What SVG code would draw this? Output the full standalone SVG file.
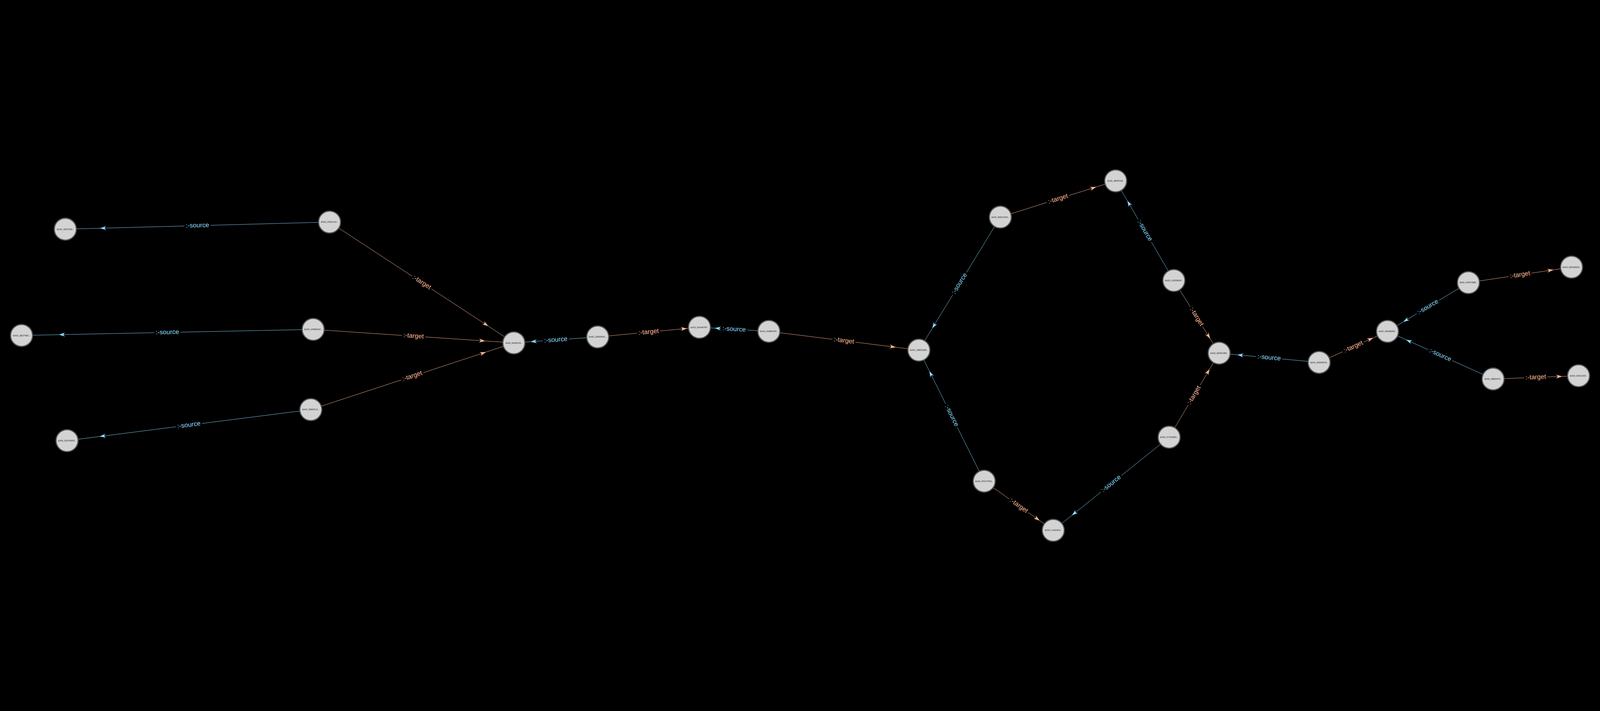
<svg xmlns="http://www.w3.org/2000/svg" width="7423" height="1820" viewBox="0 0 7423 1820">
<style>
:root{max-width:100vw;max-height:100vh;background:#000}
.src{fill:none;stroke:#8cdcff;stroke-width:1.6;marker-mid:url(#aS)}
.tgt{fill:none;stroke:#ffb896;stroke-width:1.6;marker-mid:url(#aT)}
.lb{fill:#000}
.ls{font-family:"Liberation Sans",Arial,sans-serif;font-size:30px;fill:#8cdcff;text-anchor:middle}
.lt{font-family:"Liberation Sans",Arial,sans-serif;font-size:30px;fill:#ffb896;text-anchor:middle}
.node circle{fill:#d3d3d3;stroke:#555;stroke-width:5}
.node text{font-family:"Liberation Sans",Arial,sans-serif;font-size:10px;fill:#222;text-anchor:middle}
</style>
<defs>
<marker id="aS" viewBox="-31 -10 32 20" refX="0" refY="0" markerWidth="32" markerHeight="20" markerUnits="userSpaceOnUse" orient="auto" overflow="visible">
<path d="M0,0 L-30,-9.5 Q-14,0 -30,9.5 Z" fill="#8cdcff"/>
</marker>
<marker id="aT" viewBox="-31 -10 32 20" refX="0" refY="0" markerWidth="32" markerHeight="20" markerUnits="userSpaceOnUse" orient="auto" overflow="visible">
<path d="M0,0 L-30,-9.5 Q-14,0 -30,9.5 Z" fill="#ffb896"/>
</marker>
</defs>
<rect x="0" y="0" width="7423" height="1820" fill="#000"/>
<g id="edges">
<g id="e1"><polyline class="src" points="1529,291 464,319.7 303,324"/><g transform="translate(916,307.5) rotate(-1.54)"><rect class="lb" x="-61" y="-10" width="122" height="20"/><text class="ls" x="0" y="8">:-source</text></g></g>
<g id="e2"><polyline class="tgt" points="1529,291 2265.5,773.8 2384,851.5"/><g transform="translate(1956.5,571.25) rotate(33.25)"><rect class="lb" x="-54" y="-10" width="108" height="20"/><text class="lt" x="0" y="8">:-target</text></g></g>
<g id="e3"><polyline class="src" points="1453,789 273,813.4 100,817"/><g transform="translate(776.5,803) rotate(-1.19)"><rect class="lb" x="-61" y="-10" width="122" height="20"/><text class="ls" x="0" y="8">:-source</text></g></g>
<g id="e4"><polyline class="tgt" points="1453,789 2251.4,842.6 2384,851.5"/><g transform="translate(1918.5,820.25) rotate(3.84)"><rect class="lb" x="-54" y="-10" width="108" height="20"/><text class="lt" x="0" y="8">:-target</text></g></g>
<g id="e5"><polyline class="src" points="1442,1161 462,1285.8 311,1305"/><g transform="translate(876.5,1233) rotate(-7.26)"><rect class="lb" x="-61" y="-10" width="122" height="20"/><text class="ls" x="0" y="8">:-source</text></g></g>
<g id="e6"><polyline class="tgt" points="1442,1161 2254.7,894.1 2384,851.5"/><g transform="translate(1913,1006.25) rotate(-18.19)"><rect class="lb" x="-54" y="-10" width="108" height="20"/><text class="lt" x="0" y="8">:-target</text></g></g>
<g id="e7"><polyline class="src" points="2773,824 2461.7,846 2384,851.5"/><g transform="translate(2578.5,837.75) rotate(-4.04)"><rect class="lb" x="-61" y="-10" width="122" height="20"/><text class="ls" x="0" y="8">:-source</text></g></g>
<g id="e8"><polyline class="tgt" points="2773,824 3187,784.5 3245,779"/><g transform="translate(3009,801.5) rotate(-5.45)"><rect class="lb" x="-54" y="-10" width="108" height="20"/><text class="lt" x="0" y="8">:-target</text></g></g>
<g id="e9"><polyline class="src" points="3567,798 3315.7,783.2 3245,779"/><g transform="translate(3406,788.5) rotate(3.38)"><rect class="lb" x="-61" y="-10" width="122" height="20"/><text class="ls" x="0" y="8">:-source</text></g></g>
<g id="e10"><polyline class="tgt" points="3567,798 4156,871.6 4263,885"/><g transform="translate(3915,841.5) rotate(7.13)"><rect class="lb" x="-54" y="-10" width="108" height="20"/><text class="lt" x="0" y="8">:-target</text></g></g>
<g id="e11"><polyline class="src" points="4641,268 4325,784 4263,885"/><g transform="translate(4452,576.5) rotate(-58.5)"><rect class="lb" x="-61" y="-10" width="122" height="20"/><text class="ls" x="0" y="8">:-source</text></g></g>
<g id="e12"><polyline class="tgt" points="4641,268 5086,128 5176,100"/><g transform="translate(4908.5,184) rotate(-17.43)"><rect class="lb" x="-54" y="-10" width="108" height="20"/><text class="lt" x="0" y="8">:-target</text></g></g>
<g id="e13"><polyline class="src" points="5446,562 5230,192 5176,100"/><g transform="translate(5311,331) rotate(59.7)"><rect class="lb" x="-61" y="-10" width="122" height="20"/><text class="ls" x="0" y="8">:-source</text></g></g>
<g id="e14"><polyline class="tgt" points="5446,562 5614.5,832 5656,899"/><g transform="translate(5551,730.5) rotate(58.07)"><rect class="lb" x="-54" y="-10" width="108" height="20"/><text class="lt" x="0" y="8">:-target</text></g></g>
<g id="e15"><polyline class="src" points="6120,942 5740,906.8 5656,899"/><g transform="translate(5888,920.5) rotate(5.29)"><rect class="lb" x="-61" y="-10" width="122" height="20"/><text class="ls" x="0" y="8">:-source</text></g></g>
<g id="e16"><polyline class="tgt" points="6120,942 6371,828 6437,798"/><g transform="translate(6278.5,870) rotate(-24.43)"><rect class="lb" x="-54" y="-10" width="108" height="20"/><text class="lt" x="0" y="8">:-target</text></g></g>
<g id="e17"><polyline class="src" points="6812.5,572 6510,754 6437,798"/><g transform="translate(6624.75,685) rotate(-31.04)"><rect class="lb" x="-61" y="-10" width="122" height="20"/><text class="ls" x="0" y="8">:-source</text></g></g>
<g id="e18"><polyline class="tgt" points="6812.5,572 7207,512.6 7291,500"/><g transform="translate(7051.75,536) rotate(-8.56)"><rect class="lb" x="-54" y="-10" width="108" height="20"/><text class="lt" x="0" y="8">:-target</text></g></g>
<g id="e19"><polyline class="src" points="6927,1019 6523,836.8 6437,798"/><g transform="translate(6682,908.5) rotate(24.27)"><rect class="lb" x="-61" y="-10" width="122" height="20"/><text class="ls" x="0" y="8">:-source</text></g></g>
<g id="e20"><polyline class="tgt" points="6927,1019 7248,1006.9 7323.5,1004"/><g transform="translate(7125.25,1011.5) rotate(-2.17)"><rect class="lb" x="-54" y="-10" width="108" height="20"/><text class="lt" x="0" y="8">:-target</text></g></g>
<g id="e21"><polyline class="tgt" points="5424,1289 5612,973 5656,899"/><g transform="translate(5540,1094) rotate(-59.26)"><rect class="lb" x="-54" y="-10" width="108" height="20"/><text class="lt" x="0" y="8">:-target</text></g></g>
<g id="e22"><polyline class="src" points="5424,1289 4972.7,1651.8 4886.5,1721"/><g transform="translate(5155.25,1505) rotate(-38.79)"><rect class="lb" x="-61" y="-10" width="122" height="20"/><text class="ls" x="0" y="8">:-source</text></g></g>
<g id="e23"><polyline class="src" points="4566,1493 4311.5,982 4263,885"/><g transform="translate(4414.5,1189) rotate(63.5)"><rect class="lb" x="-61" y="-10" width="122" height="20"/><text class="ls" x="0" y="8">:-source</text></g></g>
<g id="e24"><polyline class="tgt" points="4566,1493 4823.6,1676 4886.5,1721"/><g transform="translate(4726.25,1607) rotate(35.43)"><rect class="lb" x="-54" y="-10" width="108" height="20"/><text class="lt" x="0" y="8">:-target</text></g></g>
</g>
<g id="nodes">
<g id="n1" class="node"><circle cx="303" cy="324" r="51"/><text x="303" y="327.5">:EAID_1B7C5A9...</text></g>
<g id="n2" class="node"><circle cx="1529" cy="291" r="51"/><text x="1529" y="294.5">:EAID_D9D11AC...</text></g>
<g id="n3" class="node"><circle cx="100" cy="817" r="51"/><text x="100" y="820.5">:EAID_3ED796D...</text></g>
<g id="n4" class="node"><circle cx="1453" cy="789" r="51"/><text x="1453" y="792.5">:EAID_1F5B4A67...</text></g>
<g id="n5" class="node"><circle cx="311" cy="1305" r="51"/><text x="311" y="1308.5">:EAID_FE3783D5...</text></g>
<g id="n6" class="node"><circle cx="1442" cy="1161" r="51"/><text x="1442" y="1164.5">:EAID_59EDF1C...</text></g>
<g id="n7" class="node"><circle cx="2384" cy="851.5" r="51"/><text x="2384" y="855">:EAID_EA6FA26...</text></g>
<g id="n8" class="node"><circle cx="2773" cy="824" r="51"/><text x="2773" y="827.5">:EAID_25D69F61...</text></g>
<g id="n9" class="node"><circle cx="3245" cy="779" r="51"/><text x="3245" y="782.5">:EAID_50AA87FF...</text></g>
<g id="n10" class="node"><circle cx="3567" cy="798" r="51"/><text x="3567" y="801.5">:EAID_649BD4F5...</text></g>
<g id="n11" class="node"><circle cx="4263" cy="885" r="51"/><text x="4263" y="888.5">:EAID_19BD5385...</text></g>
<g id="n12" class="node"><circle cx="4641" cy="268" r="51"/><text x="4641" y="271.5">:EAID_B6DCD4D...</text></g>
<g id="n13" class="node"><circle cx="5176" cy="100" r="51"/><text x="5176" y="103.5">:EAID_4B4FFA8...</text></g>
<g id="n14" class="node"><circle cx="5446" cy="562" r="51"/><text x="5446" y="565.5">:EAID_A2D5863F...</text></g>
<g id="n15" class="node"><circle cx="5656" cy="899" r="51"/><text x="5656" y="902.5">:EAID_E5F82359...</text></g>
<g id="n16" class="node"><circle cx="6120" cy="942" r="51"/><text x="6120" y="945.5">:EAID_4D803F25...</text></g>
<g id="n17" class="node"><circle cx="6437" cy="798" r="51"/><text x="6437" y="801.5">:EAID_D828E840...</text></g>
<g id="n18" class="node"><circle cx="6812.5" cy="572" r="51"/><text x="6812.5" y="575.5">:EAID_94FFC886...</text></g>
<g id="n19" class="node"><circle cx="7291" cy="500" r="51"/><text x="7291" y="503.5">:EAID_E3FD8299...</text></g>
<g id="n20" class="node"><circle cx="6927" cy="1019" r="51"/><text x="6927" y="1022.5">:EAID_5BB3AF9...</text></g>
<g id="n21" class="node"><circle cx="7323.5" cy="1004" r="51"/><text x="7323.5" y="1007.5">:EAID_6FD2CDF...</text></g>
<g id="n22" class="node"><circle cx="5424" cy="1289" r="51"/><text x="5424" y="1292.5">:EAID_F73A358C...</text></g>
<g id="n23" class="node"><circle cx="4566" cy="1493" r="51"/><text x="4566" y="1496.5">:EAID_FF077F9D...</text></g>
<g id="n24" class="node"><circle cx="4886.5" cy="1721" r="51"/><text x="4886.5" y="1724.5">:EAID_C232AF9...</text></g>
</g>
</svg>
